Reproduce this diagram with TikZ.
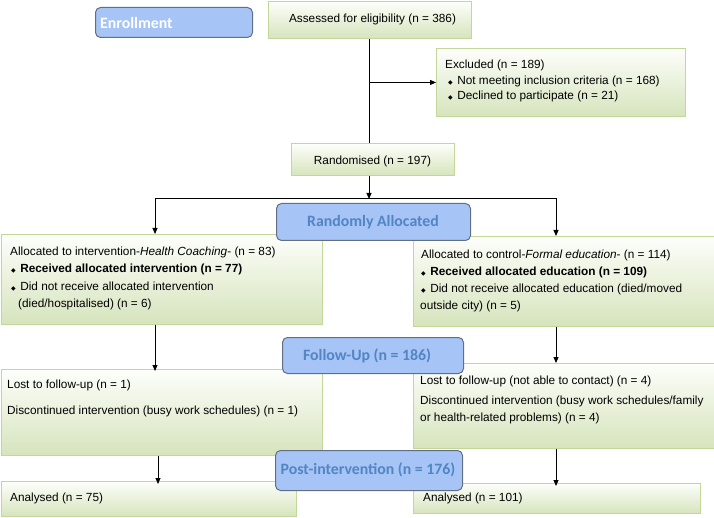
\documentclass[tikz,border=0pt]{standalone}
\usepackage{fontspec}
\setmainfont{Liberation Sans}
\newfontfamily\calibri{Carlito}
\newfontfamily\dejavu{DejaVu Sans}
\usetikzlibrary{arrows.meta}
\definecolor{gfill}{RGB}{214,228,188}
\definecolor{gtop}{RGB}{253,254,251}
\definecolor{gborder}{RGB}{196,215,155}
\definecolor{bfill}{RGB}{166,196,245}
\definecolor{bborder}{RGB}{100,110,130}
\definecolor{btext}{RGB}{82,133,196}
\newcommand{\bul}{{\dejavu\fontsize{6}{6}\selectfont ◆}\hspace{4.5pt}}
\tikzset{
  gbox/.style={draw=gborder, line width=0.9pt, top color=gtop, bottom color=gfill, inner sep=0pt, anchor=north west},
  bbox/.style={draw=bborder, fill=bfill, rounded corners=5pt, line width=1pt, anchor=north west, inner sep=0pt},
  btxt/.style={font=\calibri\bfseries\fontsize{15.8}{18}\selectfont, text=btext, inner sep=0pt, yshift=-1pt},
  txt/.style={font=\fontsize{11.8}{13}\selectfont, inner sep=0pt, anchor=mid west, yshift=-2pt},
  arr/.style={-{Triangle[length=6pt,width=5pt]}, line width=0.9pt},
  ln/.style={line width=0.9pt}
}
\begin{document}
\begin{tikzpicture}[x=1pt,y=-1pt]
\useasboundingbox (0,0) rectangle (714,518);
% green boxes
\node[gbox, minimum width=203pt, minimum height=37pt] (assess) at (268,1) {};
\node[txt, anchor=mid] (assessT) at (372.5,18) {Assessed for eligibility (n = 386)};
\node[gbox, minimum width=249pt, minimum height=68pt] (excl) at (436,48) {};
\node[txt] (ex1) at (445,64) {Excluded (n = 189)};
\node[txt] (ex2) at (448,80) {\bul Not meeting inclusion criteria (n = 168)};
\node[txt] (ex3) at (448,95) {\bul Declined to participate (n = 21)};
\node[gbox, minimum width=163pt, minimum height=32pt] (rand) at (291,143) {};
\node[txt, anchor=mid] (randT) at (372.5,160) {Randomised (n = 197)};
\node[gbox, minimum width=321pt, minimum height=90pt] (allocL) at (0.5,234) {};
\node[txt] (al1) at (10,251) {Allocated to intervention-\textit{Health Coaching}- (n = 83)};
\node[txt] (al2) at (11,268) {\bul\textbf{Received allocated intervention (n = 77)}};
\node[txt] (al3) at (11,286) {\bul Did not receive allocated intervention};
\node[txt] (al4) at (18,303) {(died/hospitalised) (n = 6)};
\node[gbox, minimum width=301pt, minimum height=90pt] (allocR) at (413,236) {};
\node[txt] (ar1) at (421,254) {Allocated to control-\textit{Formal education}- (n = 114)};
\node[txt] (ar2) at (421,271) {\bul\textbf{Received allocated education (n = 109)}};
\node[txt] (ar3) at (421,288) {\bul Did not receive allocated education (died/moved};
\node[txt] (ar4) at (420,305) {outside city) (n = 5)};
\node[gbox, minimum width=321pt, minimum height=86pt] (fuL) at (0.5,369) {};
\node[txt] (fl1) at (7,384) {Lost to follow-up (n = 1)};
\node[txt] (fl2) at (7,410) {Discontinued intervention (busy work schedules) (n = 1)};
\node[gbox, minimum width=301pt, minimum height=85pt] (fuR) at (413,363) {};
\node[txt] (fr1) at (420,380) {Lost to follow-up (not able to contact) (n = 4)};
\node[txt] (fr2) at (420,400) {Discontinued intervention (busy work schedules/family};
\node[txt] (fr3) at (420,417) {or health-related problems) (n = 4)};
\node[gbox, minimum width=295pt, minimum height=35pt] (anL) at (0.5,481) {};
\node[txt] (anLT) at (10,497) {Analysed (n = 75)};
\node[gbox, minimum width=287pt, minimum height=30pt] (anR) at (413,483) {};
\node[txt] (anRT) at (423,497) {Analysed (n = 101)};
% connectors
\coordinate (colL) at (155,0);
\coordinate (colL2) at (158,0);
\coordinate (colR) at (556,0);
\coordinate (split) at (369,198);
\draw[ln] (assess.south -| split) -- (rand.north -| split);
\draw[arr] (split |- excl.west) -- (excl.west);
\draw[arr] (rand.south -| split) -- ([yshift=-1pt]split);
\draw[ln] (split -| colL) -- (split -| colR);
\draw[arr] (split -| colL) -- (allocL.north -| colL);
\draw[arr] (split -| colR) -- (allocR.north -| colR);
\draw[arr] (allocL.south -| colL) -- ([yshift=-2pt]fuL.north -| colL);
\draw[arr] (allocR.south -| colR) -- (fuR.north -| colR);
\draw[arr] (fuL.south -| colL2) -- ([yshift=-3pt]anL.north -| colL2);
\draw[arr] (fuR.south -| colR) -- ([yshift=-3pt]anR.north -| colR);
% blue boxes
\node[bbox, minimum width=157pt, minimum height=30pt] (enr) at (95,7) {};
\node[btxt, text=white, anchor=west] (enrT) at (100,22) {Enrollment};
\node[bbox, minimum width=194pt, minimum height=37pt] (ralloc) at (276,203) {};
\node[btxt] (rallocT) at (373,221) {Randomly Allocated};
\node[bbox, minimum width=181pt, minimum height=36pt] (fu) at (282,337) {};
\node[btxt] (fuT) at (367,355) {Follow-Up (n = 186)};
\node[bbox, minimum width=187pt, minimum height=40pt] (post) at (275,450) {};
\node[btxt] (postT) at (368,469) {Post-intervention (n = 176)};
\end{tikzpicture}
\end{document}
